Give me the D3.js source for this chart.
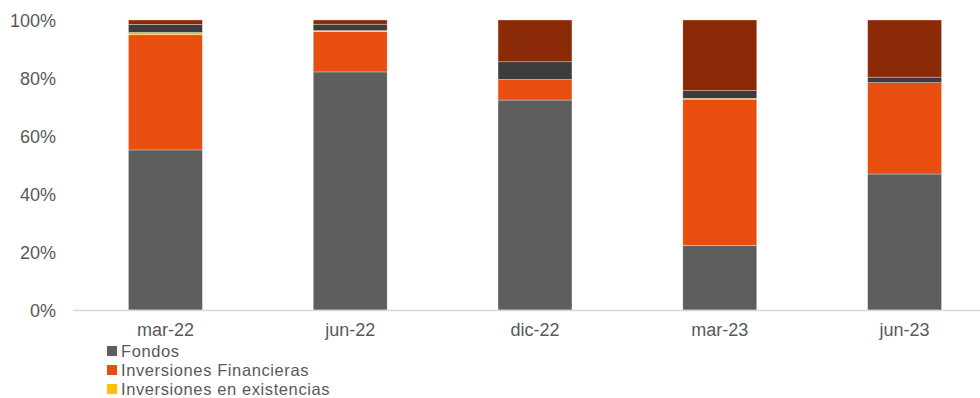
<!DOCTYPE html>
<html>
<head>
<meta charset="utf-8">
<script src="https://cdn.jsdelivr.net/npm/d3@7"></script>
<style>
  html, body { margin: 0; padding: 0; background: #fff; }
  svg { display: block; font-family: "Liberation Sans", Arial, sans-serif; }
</style>
</head>
<body>
<svg id="chart" width="980" height="398"></svg>
<script>
const categories = ["mar-22", "jun-22", "dic-22", "mar-23", "jun-23"];
const seriesNames = ["Fondos", "Inversiones Financieras", "Inversiones en existencias", "Otros activos", "Liquidez"];
const fondos = [55.2, 82.1, 72.4, 22.3, 46.9];
const inversionesFinancieras = [39.7, 13.9, 7.1, 50.4, 31.5];
const inversionesExistencias = [0.8, 0.35, 0.0, 0.3, 0.0];
const otrosActivos = [2.8, 2.2, 6.1, 2.65, 1.9];
const liquidez = [1.5, 1.45, 14.4, 24.35, 19.7];
const yTicks = [0, 20, 40, 60, 80, 100];
const colors = ["#5e5e5c", "#e84e0f", "#ffc000", "#3c3c3c", "#8a2a06"];
const legendCount = 3; // only the first three legend entries are visible in the frame

const seriesValues = [fondos, inversionesFinancieras, inversionesExistencias, otrosActivos, liquidez];
const rows = categories.map((c, i) => {
  const r = { cat: c };
  seriesNames.forEach((s, j) => r[s] = seriesValues[j][i]);
  return r;
});
const stacked = d3.stack().keys(seriesNames).offset(d3.stackOffsetExpand)(rows);

const svg = d3.select("#chart");
const x = d3.scaleBand().domain(categories).range([73, 997]).paddingInner(0.6).paddingOuter(0.3);
const y = d3.scaleLinear().domain([0, 1]).range([310, 20]);

// bars
svg.append("g").selectAll("g").data(stacked).join("g")
  .attr("fill", (d, i) => colors[i])
  .selectAll("rect").data(d => d).join("rect")
  .attr("x", d => x(d.data.cat))
  .attr("width", x.bandwidth())
  .attr("y", d => y(d[1]))
  .attr("height", d => Math.max(0, y(d[0]) - y(d[1])))
  .attr("stroke", "#ffffff")
  .attr("stroke-opacity", 0.5)
  .attr("stroke-width", 0.6);

// x axis line
svg.append("line")
  .attr("x1", 73).attr("x2", 980)
  .attr("y1", 310.5).attr("y2", 310.5)
  .attr("stroke", "#d9d9d9").attr("stroke-width", 1.3);

const FS = 18;

// y axis labels
const yAxis = d3.axisLeft(y).tickValues(yTicks.map(t => t / 100))
  .tickFormat((d, i) => yTicks[i] + "%").tickSize(0).tickPadding(0);
const gy = svg.append("g").attr("transform", "translate(56,0)").call(yAxis);
gy.select(".domain").remove();
gy.selectAll("text").attr("fill", "#595959").attr("font-size", FS)
  .attr("font-family", "Liberation Sans, Arial, sans-serif").attr("dy", "0.36em");

// x axis labels
const xAxis = d3.axisBottom(x).tickSize(0).tickPadding(0);
const gx = svg.append("g").attr("transform", "translate(0,330)").call(xAxis);
gx.select(".domain").remove();
gx.selectAll("text").attr("fill", "#595959").attr("font-size", FS)
  .attr("font-family", "Liberation Sans, Arial, sans-serif").attr("y", 0).attr("dy", "0.36em");

// legend
const legend = svg.append("g").selectAll("g")
  .data(seriesNames.slice(0, legendCount)).join("g")
  .attr("transform", (d, i) => `translate(107,${351 + i * 19})`);
legend.append("rect").attr("x", 0).attr("y", -5).attr("width", 10).attr("height", 10)
  .attr("fill", (d, i) => colors[i]);
legend.append("text").attr("x", 14).attr("y", 0).attr("dy", "0.36em")
  .attr("font-size", 16.5).attr("letter-spacing", 0.6).attr("fill", "#595959").text(d => d);
</script>
</body>
</html>
